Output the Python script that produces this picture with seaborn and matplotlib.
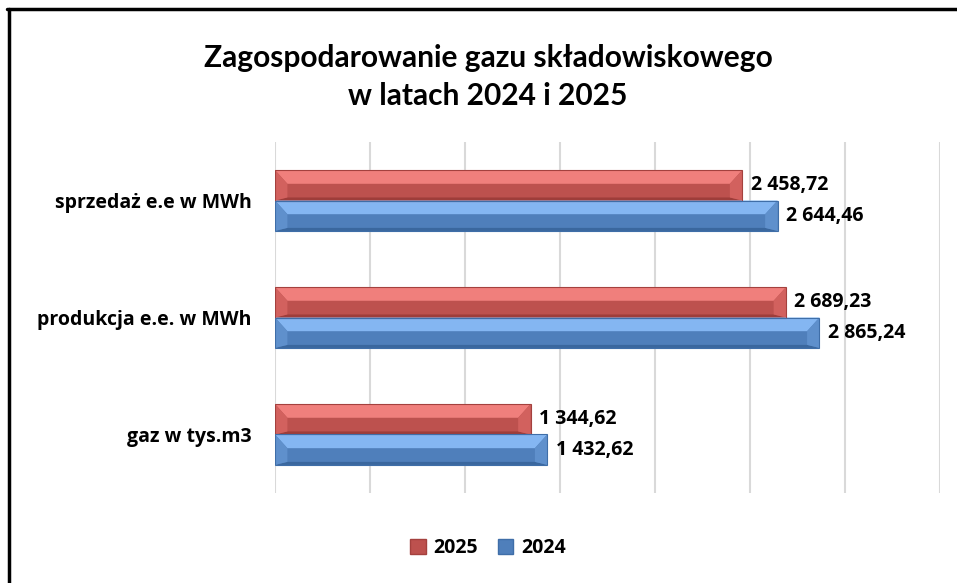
import pandas as pd
import matplotlib.pyplot as plt
import seaborn as sns
from matplotlib.patches import Polygon, Patch
from matplotlib.lines import Line2D

# Data
categories = ["sprzedaż e.e w MWh", "produkcja e.e. w MWh", "gaz w tys.m3"]
values_2025 = [2458.72, 2689.23, 1344.62]
values_2024 = [2644.46, 2865.24, 1432.62]
years = ["2025", "2024"]

df = pd.DataFrame({
    "kategoria": categories * 2,
    "rok": ["2025"] * 3 + ["2024"] * 3,
    "wartosc": values_2025 + values_2024,
})

colors = {"2025": "#bd514e", "2024": "#4f7fbb"}
top_col = {"2025": "#f07f7c", "2024": "#84b6f2"}
bot_col = {"2025": "#9e3d3a", "2024": "#3a679e"}
end_col = {"2025": "#d2615e", "2024": "#5f90cc"}
edge_col = {"2025": "#a4413e", "2024": "#3f6ea8"}

sns.set_style("white")
plt.rcParams["font.family"] = ["Open Sans", "DejaVu Sans"]
plt.rcParams["text.color"] = "black"
plt.rcParams["ytick.color"] = "black"

fig = plt.figure(figsize=(9.57, 5.83), dpi=100)
ax = fig.add_axes([0.2874, 0.1544, 0.6949, 0.602])

sns.barplot(data=df, y="kategoria", x="wartosc", hue="rok", hue_order=years,
            palette=colors, saturation=1, orient="h", width=0.52, legend=False, ax=ax,
            linewidth=0.8)

# Fake the Excel bevel look on every bar
dx = 65
for year, cont in zip(years, ax.containers):
    for p in cont:
        x0 = p.get_x()
        x1 = x0 + p.get_width()
        yt = p.get_y()
        yb = yt + p.get_height()
        h = p.get_height()
        dt = 0.45 * h
        db = 0.1 * h
        ax.add_patch(Polygon([(x0, yt), (x1, yt), (x1 - dx, yt + dt), (x0 + dx, yt + dt)],
                             closed=True, facecolor=top_col[year], edgecolor="none", zorder=3))
        ax.add_patch(Polygon([(x0, yb), (x1, yb), (x1 - dx, yb - db), (x0 + dx, yb - db)],
                             closed=True, facecolor=bot_col[year], edgecolor="none", zorder=3))
        ax.add_patch(Polygon([(x1, yt), (x1, yb), (x1 - dx, yb - db), (x1 - dx, yt + dt)],
                             closed=True, facecolor=end_col[year], edgecolor="none", zorder=3))
        ax.add_patch(Polygon([(x0, yt), (x0, yb), (x0 + dx, yb - db), (x0 + dx, yt + dt)],
                             closed=True, facecolor=end_col[year], edgecolor="none", zorder=3))
        ax.add_patch(Polygon([(x0, yt), (x1, yt), (x1, yb), (x0, yb)], closed=True,
                             facecolor="none", edgecolor=edge_col[year], lw=0.8, zorder=4))

# value labels, polish number format
for year, cont, vals in zip(years, ax.containers, [values_2025, values_2024]):
    labels = [f"{v:,.2f}".replace(",", " ").replace(".", ",") for v in vals]
    ax.bar_label(cont, labels=labels, padding=6, fontsize=14, fontweight="bold", color="black")

ax.set_xlim(0, 3500)
ax.set_xticks(range(0, 3501, 500))
ax.set_xticklabels([])
ax.tick_params(axis="x", length=0)
ax.tick_params(axis="y", length=0, pad=17, labelcolor="black")
for lbl in ax.get_yticklabels():
    lbl.set_fontweight("bold")
    lbl.set_fontsize(14)
ax.grid(axis="x", color="#d9d9d9", lw=1.5)
ax.set_axisbelow(True)
sns.despine(ax=ax, left=True, bottom=True)
ax.set_xlabel("")
ax.set_ylabel("")

fig.text(0.51, 0.868, "Zagospodarowanie gazu składowiskowego\nw latach 2024 i 2025",
         ha="center", va="center", fontsize=21.5, fontweight="bold", linespacing=1.4,
         color="black", family=["Lato", "DejaVu Sans"])

handles = [Patch(facecolor=colors[y], edgecolor=edge_col[y]) for y in years]
fig.legend(handles, years, loc="center", bbox_to_anchor=(0.51, 0.06), ncol=2, frameon=False,
           handlelength=0.8, handleheight=0.8, handletextpad=0.4, columnspacing=1.0,
           prop={"weight": "bold", "size": 14})

# black frame (left and top only, the rest is cropped)
fig.add_artist(Line2D([8.5 / 957, 8.5 / 957], [0, 1 - 8.5 / 583], color="black", lw=2.5))
fig.add_artist(Line2D([7.5 / 957, 1], [1 - 8.5 / 583, 1 - 8.5 / 583], color="black", lw=2.5))

fig.savefig("out.png", dpi=100)
